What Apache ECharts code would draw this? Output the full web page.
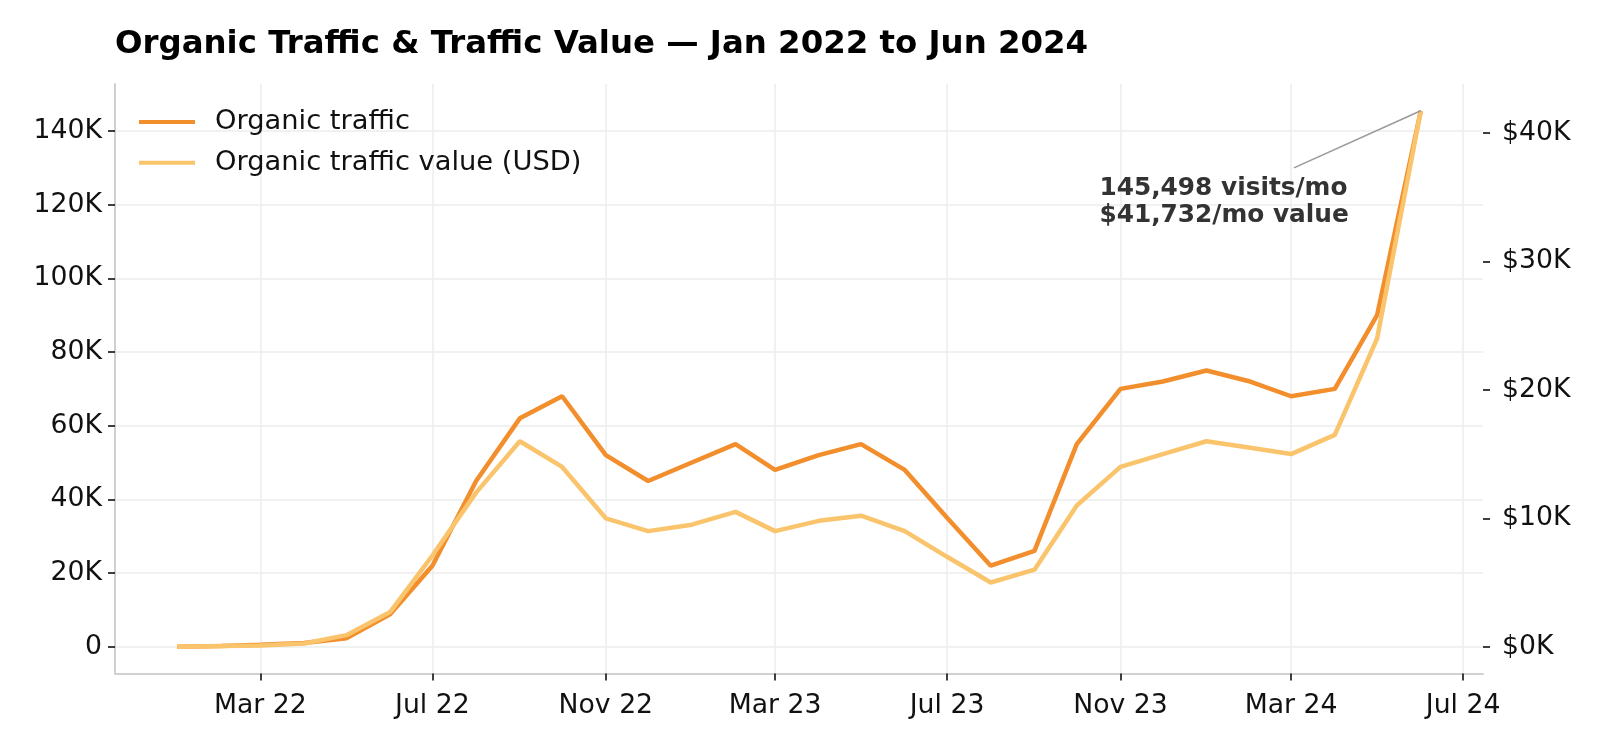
<!DOCTYPE html>
<html>
<head>
<meta charset="utf-8">
<title>Organic Traffic & Traffic Value</title>
<script src="https://cdn.jsdelivr.net/npm/echarts@6/dist/echarts.min.js"></script>
<style>
  html, body { margin: 0; padding: 0; background: #fff; }
  #chart { width: 1600px; height: 747px; }
</style>
</head>
<body>
<div id="chart"></div>
<script>
// monthly data, Jan 2022 .. Jun 2024
var months = [
  '2022-01', '2022-02', '2022-03', '2022-04', '2022-05', '2022-06',
  '2022-07', '2022-08', '2022-09', '2022-10', '2022-11', '2022-12',
  '2023-01', '2023-02', '2023-03', '2023-04', '2023-05', '2023-06',
  '2023-07', '2023-08', '2023-09', '2023-10', '2023-11', '2023-12',
  '2024-01', '2024-02', '2024-03', '2024-04', '2024-05', '2024-06'
];
var traffic = [
  0, 200, 500, 1000, 2300, 8800,
  22000, 45000, 62000, 68000, 52000, 45000,
  50000, 55000, 48000, 52000, 55000, 48000,
  35000, 22000, 26000, 55000, 70000, 72000,
  75000, 72000, 68000, 70000, 90000, 145498
];
var trafficValue = [
  0, 50, 100, 250, 900, 2700,
  7100, 12000, 16000, 14000, 10000, 9000,
  9500, 10500, 9000, 9800, 10200, 9000,
  7000, 5000, 6000, 11000, 14000, 15000,
  16000, 15500, 15000, 16500, 24000, 41732
];

// tick labels
var xTickDates = ['2022-03', '2022-07', '2022-11', '2023-03', '2023-07', '2023-11', '2024-03', '2024-07'];
var xTickLabels = ['Mar 22', 'Jul 22', 'Nov 22', 'Mar 23', 'Jul 23', 'Nov 23', 'Mar 24', 'Jul 24'];
var leftTicks = [0, 20000, 40000, 60000, 80000, 100000, 120000, 140000];
var rightTicks = [0, 10000, 20000, 30000, 40000];

// annotation text anchor (date, traffic)
var annoAnchor = ['2024-03-03', 130000];
var annoText = '145,498 visits/mo\n$41,732/mo value';

// dates as plain day numbers (UTC), used on a value axis
function toDay(s) {
  var p = s.split('-');
  return Date.UTC(+p[0], +p[1] - 1, p[2] ? +p[2] : 1) / 86400000;
}

var days = months.map(toDay);
var tickDays = xTickDates.map(toDay);

// matplotlib style 5% margins
function padded(lo, hi) {
  var d = (hi - lo) * 0.05;
  return [lo - d, hi + d];
}
var xr = padded(days[0], days[days.length - 1]);
var yl = padded(0, Math.max.apply(null, traffic));
var yr = padded(0, Math.max.apply(null, trafficValue));

var FONT = 'DejaVu Sans';
var last = days.length - 1;

var myChart = echarts.init(document.getElementById('chart'));

var option = {
  animation: false,
  backgroundColor: '#fff',
  textStyle: { fontFamily: FONT },
  title: {
    text: 'Organic Traffic & Traffic Value \u2014 Jan 2022 to Jun 2024',
    left: 110,
    top: 24,
    textStyle: { fontFamily: FONT, fontSize: 32.4, fontWeight: 'bold', color: '#000' }
  },
  legend: {
    orient: 'vertical',
    left: 134,
    top: 102,
    itemWidth: 56,
    itemHeight: 4,
    itemGap: 10.8,
    icon: 'rect',
    textStyle: { fontFamily: FONT, fontSize: 27.3, color: '#111', lineHeight: 30, padding: [0, 0, 0, 15] },
    data: ['Organic traffic', 'Organic traffic value (USD)']
  },
  grid: { left: 115, right: 117, top: 84, bottom: 73.5 },
  xAxis: {
    type: 'value',
    min: xr[0],
    max: xr[1],
    axisLine: { show: true, onZero: false, lineStyle: { color: '#d0d0d0', width: 2 } },
    axisTick: { show: true, length: 7, lineStyle: { color: '#000', width: 1.5 }, customValues: tickDays },
    axisLabel: {
      customValues: tickDays,
      margin: 19,
      fontFamily: FONT,
      fontSize: 26.7,
      color: '#111',
      formatter: function (v) {
        var i = tickDays.indexOf(v);
        return i >= 0 ? xTickLabels[i] : '';
      }
    },
    splitLine: { show: true, lineStyle: { color: '#ececec', width: 1.5 } }
  },
  yAxis: [{
    type: 'value',
    min: yl[0],
    max: yl[1],
    axisLine: { show: true, onZero: false, lineStyle: { color: '#d0d0d0', width: 2 } },
    axisTick: { show: true, length: 7, lineStyle: { color: '#000', width: 1.5 }, customValues: leftTicks },
    axisLabel: {
      customValues: leftTicks,
      margin: 13,
      fontFamily: FONT,
      fontSize: 26.7,
      color: '#111',
      formatter: function (v) { return v === 0 ? '0' : (v / 1000) + 'K'; }
    },
    splitLine: { show: true, lineStyle: { color: '#ececec', width: 1.5 } }
  }, {
    type: 'value',
    position: 'right',
    min: yr[0],
    max: yr[1],
    axisLine: { show: false },
    axisTick: { show: true, length: 7, lineStyle: { color: '#000', width: 1.5 }, customValues: rightTicks },
    axisLabel: {
      customValues: rightTicks,
      margin: 19,
      fontFamily: FONT,
      fontSize: 26.7,
      color: '#111',
      formatter: function (v) { return '$' + (v / 1000) + 'K'; }
    },
    splitLine: { show: false }
  }],
  series: [{
    name: 'Organic traffic',
    type: 'line',
    yAxisIndex: 0,
    data: days.map(function (d, i) { return [d, traffic[i]]; }),
    showSymbol: false,
    symbol: 'none',
    color: '#f28e2b',
    lineStyle: { color: '#f28e2b', width: 4.5 },
    markLine: {
      silent: true,
      symbol: ['none', 'none'],
      label: { show: false },
      lineStyle: { color: '#999', width: 1.5, type: 'solid' },
      data: [[
        { coord: [toDay(annoAnchor[0]), annoAnchor[1]] },
        { coord: [days[last], traffic[last]] }
      ]]
    },
    markPoint: {
      silent: true,
      symbol: 'circle',
      symbolSize: 1,
      itemStyle: { color: 'rgba(0,0,0,0)' },
      label: {
        show: true,
        position: [-194, 8],
        align: 'left',
        verticalAlign: 'top',
        fontFamily: FONT,
        fontSize: 24.8,
        fontWeight: 'bold',
        lineHeight: 26.6,
        color: '#333',
        formatter: annoText
      },
      data: [{ coord: [toDay(annoAnchor[0]), annoAnchor[1]] }]
    }
  }, {
    name: 'Organic traffic value (USD)',
    type: 'line',
    yAxisIndex: 1,
    data: days.map(function (d, i) { return [d, trafficValue[i]]; }),
    showSymbol: false,
    symbol: 'none',
    color: '#fac46d',
    lineStyle: { color: '#fac46d', width: 4.5 }
  }]
};

myChart.setOption(option);
</script>
</body>
</html>
